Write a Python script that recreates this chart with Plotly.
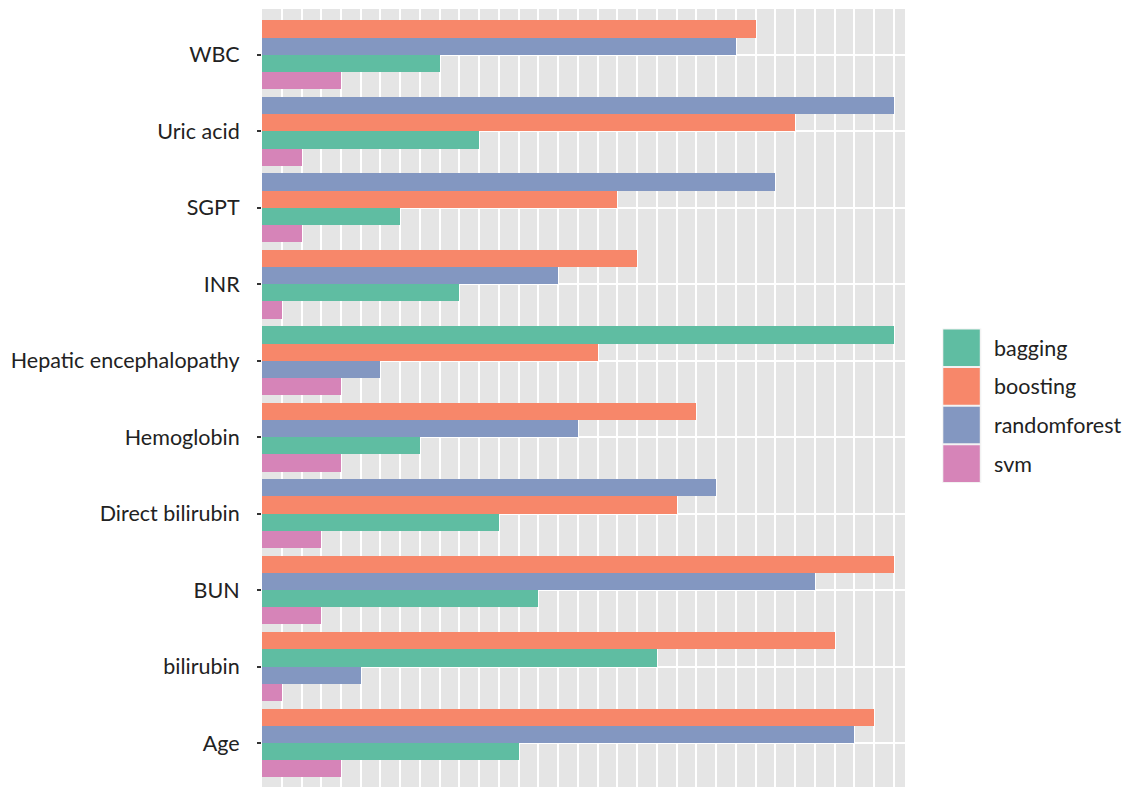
import plotly.graph_objects as go

# Categories listed bottom -> top
categories = ["Age", "bilirubin", "BUN", "Direct bilirubin", "Hemoglobin",
              "Hepatic encephalopathy", "INR", "SGPT", "Uric acid", "WBC"]
models = ["bagging", "boosting", "randomforest", "svm"]
bagging = [13, 20, 14, 12, 8, 32, 10, 7, 11, 9]
boosting = [31, 29, 32, 21, 22, 17, 19, 18, 27, 25]
randomforest = [30, 5, 28, 23, 16, 6, 15, 26, 32, 24]
svm = [4, 1, 3, 3, 4, 4, 1, 2, 2, 4]
colors = ["#5FBDA2", "#F7876A", "#8397C1", "#D684B8"]

series = {"bagging": bagging, "boosting": boosting,
          "randomforest": randomforest, "svm": svm}

W, H = 1126, 787
L_PX, R_PX, T_PX, B_PX = 261.7, 904.7, 9.0, 787.0
BW = 0.225
FONT = "Lato, Open Sans, sans-serif"
FS = 21.5
TXT = "#222222"

# rank of each model within a category (largest value on top)
ranks = {m: [0] * len(categories) for m in models}
for ci in range(len(categories)):
    order = sorted(models, key=lambda m: (-series[m][ci], models.index(m)))
    for r, m in enumerate(order):
        ranks[m][ci] = r

fig = go.Figure()
for m, col in zip(models, colors):
    ypos = [ci + 1 + (1.5 - ranks[m][ci]) * BW for ci in range(len(categories))]
    fig.add_trace(go.Bar(
        x=series[m], y=ypos, orientation="h", width=BW, name=m,
        marker=dict(color=col, line=dict(width=0)), showlegend=False,
    ))

fig.update_layout(
    width=W, height=H,
    margin=dict(l=L_PX, r=W - R_PX, t=T_PX, b=H - B_PX, pad=0),
    paper_bgcolor="white", plot_bgcolor="#E5E5E5",
    bargap=0, barmode="overlay",
    font=dict(family=FONT, size=FS, color=TXT),
)
fig.update_xaxes(range=[0, 32.56], tickvals=list(range(1, 33)), showticklabels=False,
                 showgrid=True, gridcolor="white", gridwidth=2, zeroline=False,
                 ticks="", showline=False, fixedrange=True)
fig.update_yaxes(range=[1 - (B_PX - 743) / 76.44, len(categories) + 0.6],
                 tickvals=list(range(1, len(categories) + 1)), ticktext=categories,
                 showgrid=True, gridcolor="white", gridwidth=2, zeroline=False,
                 ticks="outside", ticklen=4, tickwidth=1.5, tickcolor="#333333",
                 ticklabelstandoff=13,
                 tickfont=dict(family=FONT, size=FS, color=TXT),
                 showline=False, fixedrange=True)

# legend drawn as keys + labels
def px2paper(px, py):
    return (px - L_PX) / (R_PX - L_PX), (B_PX - py) / (B_PX - T_PX)

key_top = 328.5
key_h = 38.6
for i, (m, col) in enumerate(zip(models, colors)):
    y0 = key_top + i * key_h
    x0p, y0p = px2paper(942, y0 + key_h)
    x1p, y1p = px2paper(981, y0)
    fig.add_shape(type="rect", xref="paper", yref="paper", x0=x0p, y0=y0p, x1=x1p, y1=y1p,
                  fillcolor="#F2F2F2", line=dict(width=0), layer="above")
    x0p, y0p = px2paper(943, y0 + key_h - 1)
    x1p, y1p = px2paper(979.5, y0 + 1)
    fig.add_shape(type="rect", xref="paper", yref="paper", x0=x0p, y0=y0p, x1=x1p, y1=y1p,
                  fillcolor=col, line=dict(width=0), layer="above")
    tx, ty = px2paper(992, y0 + key_h / 2)
    fig.add_annotation(xref="paper", yref="paper", x=tx, y=ty, text=m, showarrow=False,
                       xanchor="left", yanchor="middle",
                       font=dict(family=FONT, size=FS, color=TXT))

fig.write_html("out.html", config={"displayModeBar": False},
               post_script="document.body.style.margin='0px';")
